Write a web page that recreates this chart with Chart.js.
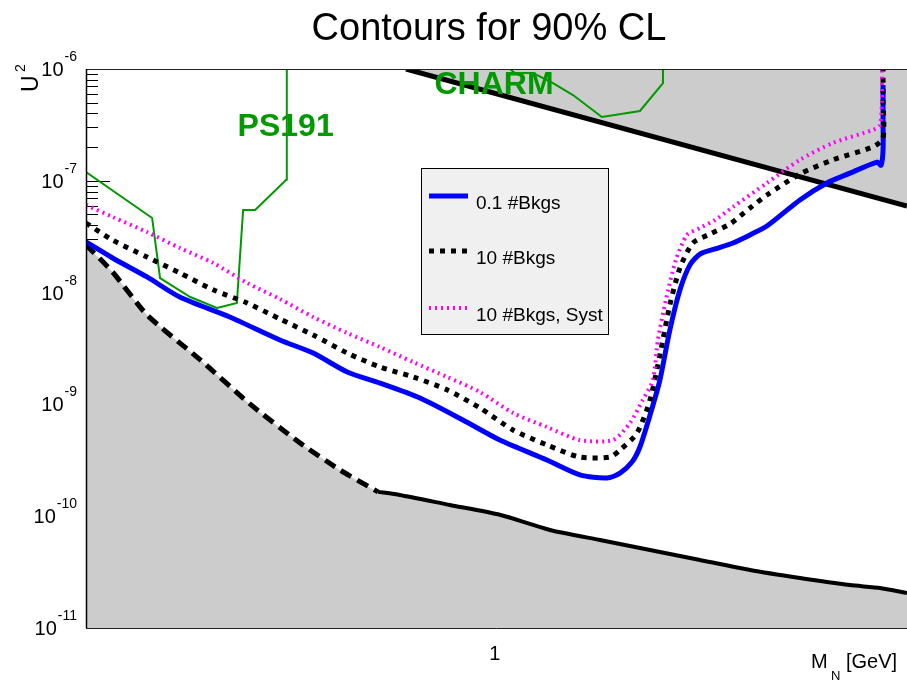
<!DOCTYPE html>
<html>
<head>
<meta charset="utf-8">
<title>Contours for 90% CL</title>
<script src="https://cdn.jsdelivr.net/npm/chart.js@4.4.1/dist/chart.umd.min.js"></script>
<style>
  html, body { margin: 0; padding: 0; background: #fff; }
  canvas { display: block; }
</style>
</head>
<body>
<canvas id="c" width="907" height="680"></canvas>
<script>
// Contours for 90% CL — HNL sensitivity, log-log

const FONT = "'Liberation Sans', Arial, Helvetica, sans-serif";
const GREY = '#cccccc';
const GREEN = '#009900';

// axis ranges
const X_MIN = 0.175, X_MAX = 5.8;
const Y_MIN = 1e-11, Y_MAX = 1e-6;
const Y_TICKS = [1e-11, 1e-10, 1e-9, 1e-8, 1e-7, 1e-6];
const X_TICKS = [1];

// 0.1 #Bkgs (blue)
const BKG01_MASS = [0.175, 0.196, 0.227, 0.261, 0.323, 0.400, 0.461, 0.533, 0.613, 0.727,
  0.873, 1.022, 1.249, 1.438, 1.614, 1.706, 1.795, 1.857, 1.939, 2.022,
  2.110, 2.203, 2.299, 2.399, 2.558, 2.761, 2.969, 3.192, 3.674, 4.123,
  4.549, 5.106, 5.193, 5.237, 5.237, 5.237];
const BKG01_U2 = [2.84e-8, 2.04e-8, 1.38e-8, 9.13e-9, 6.05e-9, 3.77e-9, 2.88e-9, 1.95e-9, 1.55e-9, 1.14e-9,
  7.25e-10, 4.80e-10, 3.18e-10, 2.34e-10, 2.20e-10, 2.43e-10, 3.05e-10, 4.16e-10, 8.04e-10, 1.65e-9,
  4.63e-9, 1.06e-8, 1.77e-8, 2.21e-8, 2.46e-8, 2.78e-8, 3.28e-8, 3.94e-8, 6.74e-8, 9.56e-8,
  1.17e-7, 1.47e-7, 1.38e-7, 1.89e-7, 3.50e-7, 7.19e-7];

// 10 #Bkgs (black dotted)
const BKG10_MASS = [0.175, 0.196, 0.227, 0.261, 0.301, 0.348, 0.400, 0.461, 0.533, 0.613,
  0.706, 0.816, 0.939, 1.081, 1.249, 1.438, 1.634, 1.706, 1.834, 1.939,
  2.022, 2.110, 2.203, 2.328, 2.503, 2.726, 2.969, 3.192, 3.674, 4.230,
  5.016, 5.237, 5.237, 5.237];
const BKG10_U2 = [4.19e-8, 2.95e-8, 2.08e-8, 1.50e-8, 1.06e-8, 8.07e-9, 5.81e-9, 4.18e-9, 2.88e-9, 2.16e-9,
  1.76e-9, 1.35e-9, 9.29e-10, 5.90e-10, 4.34e-10, 3.38e-10, 3.38e-10, 3.91e-10, 5.55e-10, 1.10e-9,
  2.77e-9, 7.75e-9, 1.66e-8, 2.78e-8, 3.34e-8, 4.11e-8, 5.71e-8, 7.46e-8, 1.15e-7, 1.54e-7,
  2.01e-7, 2.41e-7, 5.28e-7, 1.0e-6];

// 10 #Bkgs, Syst (magenta dotted)
const SYST_MASS = [0.175, 0.196, 0.227, 0.261, 0.301, 0.348, 0.400, 0.461, 0.533, 0.613,
  0.706, 0.816, 0.939, 1.081, 1.249, 1.438, 1.655, 1.780, 1.881, 1.963,
  2.005, 2.075, 2.165, 2.270, 2.399, 2.558, 2.761, 3.192, 3.674, 4.230,
  5.016, 5.168, 5.212, 5.212];
const SYST_U2 = [6.08e-8, 4.75e-8, 3.48e-8, 2.51e-8, 1.84e-8, 1.22e-8, 8.77e-9, 6.05e-9, 4.35e-9, 3.26e-9,
  2.39e-9, 1.76e-9, 1.29e-9, 8.38e-10, 6.28e-10, 4.80e-10, 4.80e-10, 6.82e-10, 1.10e-9, 1.65e-9,
  3.77e-9, 8.59e-9, 1.96e-8, 3.28e-8, 3.78e-8, 4.46e-8, 5.83e-8, 9.56e-8, 1.54e-7, 2.18e-7,
  2.85e-7, 3.16e-7, 5.28e-7, 1.0e-6];

// lower excluded boundary (dashed part, then solid part)
const LOWER_DASH_MASS = [0.175, 0.196, 0.227, 0.285, 0.352, 0.436, 0.517, 0.608];
const LOWER_DASH_U2 = [2.67e-8, 1.53e-8, 6.31e-9, 2.50e-9, 1.01e-9, 4.52e-10, 2.59e-10, 1.65e-10];
const LOWER_SOLID_MASS = [0.608, 0.667, 0.826, 1.022, 1.265, 1.566, 1.939, 2.399, 2.969, 3.674, 4.549, 5.168, 5.80];
const LOWER_SOLID_U2 = [1.65e-10, 1.55e-10, 1.26e-10, 1.03e-10, 7.53e-11, 6.13e-11, 4.99e-11, 4.06e-11, 3.30e-11, 2.80e-11, 2.42e-11, 2.28e-11, 2.06e-11];

// upper excluded boundary
const UPPER_MASS = [0.685, 5.80];
const UPPER_U2 = [1.0e-6, 5.95e-8];

// previous experiments
const PS191_MASS = [0.175, 0.232, 0.240, 0.273, 0.306, 0.333, 0.342, 0.360, 0.411, 0.412];
const PS191_U2 = [1.20e-7, 4.65e-8, 1.35e-8, 9.13e-9, 7.28e-9, 8.07e-9, 5.48e-8, 5.48e-8, 1.02e-7, 1.0e-6];
const CHARM_MASS = [1.067, 1.090, 1.177, 1.282, 1.396, 1.579, 1.857, 2.049, 2.049];
const CHARM_U2 = [1.0e-6, 9.21e-7, 9.21e-7, 7.49e-7, 5.85e-7, 3.72e-7, 4.21e-7, 7.49e-7, 1.0e-6];

// experiment labels (anchor in data coords)
const EXP_LABELS = [
  { text: 'PS191', m: 0.41, u2: 3.0e-7 },
  { text: 'CHARM', m: 0.997, u2: 7.2e-7 },
];

const pts = (xs, ys) => xs.map((x, i) => ({ x, y: ys[i] }));

function line(ds) {
  return Object.assign({ showLine: true, pointRadius: 0, fill: false, tension: 0, borderCapStyle: 'butt' }, ds);
}

const datasets = [
  line({ label: '10 #Bkgs, Syst', data: pts(SYST_MASS, SYST_U2), borderColor: '#ff00ff', borderWidth: 4, borderDash: [2, 4], tension: 0.25 }),
  line({ label: '10 #Bkgs', data: pts(BKG10_MASS, BKG10_U2), borderColor: '#000000', borderWidth: 5, borderDash: [5, 6], tension: 0.25 }),
  line({ label: '0.1 #Bkgs', data: pts(BKG01_MASS, BKG01_U2), borderColor: '#0000ff', borderWidth: 5, tension: 0.25 }),
  line({ label: 'PS191', data: pts(PS191_MASS, PS191_U2), borderColor: GREEN, borderWidth: 2 }),
  line({ label: 'CHARM', data: pts(CHARM_MASS, CHARM_U2), borderColor: GREEN, borderWidth: 2 }),
  line({ label: 'upper', data: pts(UPPER_MASS, UPPER_U2), borderColor: '#000000', borderWidth: 5, fill: 'end', backgroundColor: GREY }),
  line({ label: 'lower solid', data: pts(LOWER_SOLID_MASS, LOWER_SOLID_U2), borderColor: '#000000', borderWidth: 4, tension: 0.2 }),
  line({ label: 'lower dashed', data: pts(LOWER_DASH_MASS, LOWER_DASH_U2), borderColor: '#000000', borderWidth: 5, borderDash: [12, 7], tension: 0.2 }),
  line({ label: 'lower fill', data: pts(LOWER_DASH_MASS.concat(LOWER_SOLID_MASS.slice(1)), LOWER_DASH_U2.concat(LOWER_SOLID_U2.slice(1))),
    borderColor: 'rgba(0,0,0,0)', borderWidth: 0, fill: 'start', backgroundColor: GREY, tension: 0.2 }),
];

const LEGEND_ROWS = [2, 1, 0]; // dataset indices shown in the legend, top to bottom

const rootFrame = {
  id: 'rootFrame',
  beforeDatasetsDraw(chart) {
    // y ticks sit under the grey fills, as in the original
    const { ctx, chartArea: a } = chart;
    const ys = chart.scales.y;
    ctx.save();
    ctx.strokeStyle = '#000';
    ctx.lineWidth = 1;
    ctx.beginPath();
    for (let e = -11; e <= -6; e++) {
      const y = Math.round(ys.getPixelForValue(Math.pow(10, e))) + 0.5;
      ctx.moveTo(a.left, y); ctx.lineTo(a.left + 24, y);
      if (e === -6) continue;
      for (let k = 2; k <= 9; k++) {
        const ym = Math.round(ys.getPixelForValue(k * Math.pow(10, e))) + 0.5;
        ctx.moveTo(a.left, ym); ctx.lineTo(a.left + 12, ym);
      }
    }
    ctx.stroke();
    ctx.restore();
  },
  afterDatasetsDraw(chart) {
    const { ctx, chartArea: a } = chart;
    const xs = chart.scales.x, ys = chart.scales.y;
    ctx.save();

    // frame
    ctx.strokeStyle = '#222';
    ctx.lineWidth = 1;
    ctx.beginPath();
    ctx.moveTo(a.left + 0.5, a.top);
    ctx.lineTo(a.left + 0.5, a.bottom + 0.5);
    ctx.lineTo(a.right, a.bottom + 0.5);
    ctx.moveTo(a.left, a.top + 0.5);
    ctx.lineTo(a.right, a.top + 0.5);
    ctx.stroke();
    ctx.beginPath();
    ctx.lineWidth = 1.5;
    ctx.strokeStyle = '#000';
    ctx.moveTo(a.left + 0.5, a.top);
    ctx.lineTo(a.left + 0.5, a.bottom);
    ctx.stroke();

    // experiment labels
    ctx.fillStyle = GREEN;
    ctx.font = `bold 32px ${FONT}`;
    ctx.textAlign = 'center';
    ctx.textBaseline = 'middle';
    EXP_LABELS.forEach(l => ctx.fillText(l.text, xs.getPixelForValue(l.m), ys.getPixelForValue(l.u2)));

    // legend
    const lx = 421.5, ly = 168.5, lw = 187, lh = 166;
    ctx.fillStyle = '#f0f0f0';
    ctx.fillRect(lx, ly, lw, lh);
    ctx.strokeStyle = '#000';
    ctx.lineWidth = 1;
    ctx.setLineDash([]);
    ctx.strokeRect(lx, ly, lw, lh);
    const rowY = [196, 251, 308];
    ctx.font = `19px ${FONT}`;
    ctx.textAlign = 'left';
    ctx.textBaseline = 'alphabetic';
    LEGEND_ROWS.forEach((idx, r) => {
      const ds = chart.data.datasets[idx];
      ctx.save();
      ctx.strokeStyle = ds.borderColor;
      ctx.lineWidth = ds.borderWidth;
      ctx.setLineDash(ds.borderDash || []);
      ctx.beginPath();
      ctx.moveTo(429, rowY[r]);
      ctx.lineTo(468, rowY[r]);
      ctx.stroke();
      ctx.restore();
      ctx.fillStyle = '#000';
      ctx.fillText(ds.label, 476, rowY[r] + 13);
    });
    ctx.restore();
  },
  afterDraw(chart) {
    const { ctx } = chart;
    const xs = chart.scales.x, ys = chart.scales.y;
    ctx.save();
    ctx.fillStyle = '#000';
    ctx.textBaseline = 'alphabetic';

    // y tick labels 10^n
    Y_TICKS.forEach(v => {
      const y = ys.getPixelForValue(v);
      const sup = String(Math.round(Math.log10(v)));
      ctx.textAlign = 'right';
      ctx.font = `14px ${FONT}`;
      const sw = ctx.measureText(sup).width;
      ctx.fillText(sup, 77, y - 8);
      ctx.font = `20px ${FONT}`;
      ctx.fillText('10', 77 - sw - 1, y + 7);
    });

    // x tick labels
    ctx.textAlign = 'center';
    ctx.font = `20px ${FONT}`;
    X_TICKS.forEach(v => ctx.fillText(String(v), xs.getPixelForValue(v), 660));

    // title
    ctx.font = `38px ${FONT}`;
    ctx.fillText('Contours for 90% CL', 489, 40);

    // x title M_N [GeV]
    ctx.textAlign = 'left';
    ctx.font = `20px ${FONT}`;
    ctx.fillText('M', 811, 668);
    ctx.font = `13px ${FONT}`;
    ctx.fillText('N', 831, 680);
    ctx.font = `20px ${FONT}`;
    ctx.fillText('[GeV]', 846, 668);

    // y title U^2
    ctx.translate(38, 92);
    ctx.rotate(-Math.PI / 2);
    ctx.font = `23px ${FONT}`;
    ctx.fillText('U', 0, 0);
    ctx.font = `14px ${FONT}`;
    ctx.fillText('2', 20, -13);
    ctx.restore();
  }
};

new Chart(document.getElementById('c'), {
  type: 'scatter',
  data: { datasets },
  options: {
    responsive: false,
    animation: false,
    events: [],
    layout: { padding: { left: 86, right: 0, top: 69, bottom: 52 } },
    scales: {
      x: { type: 'logarithmic', min: X_MIN, max: X_MAX, display: false },
      y: { type: 'logarithmic', min: Y_MIN, max: Y_MAX, display: false },
    },
    plugins: {
      legend: { display: false },
      title: { display: false },
      tooltip: { enabled: false },
    },
  },
  plugins: [rootFrame],
});
</script>
</body>
</html>
